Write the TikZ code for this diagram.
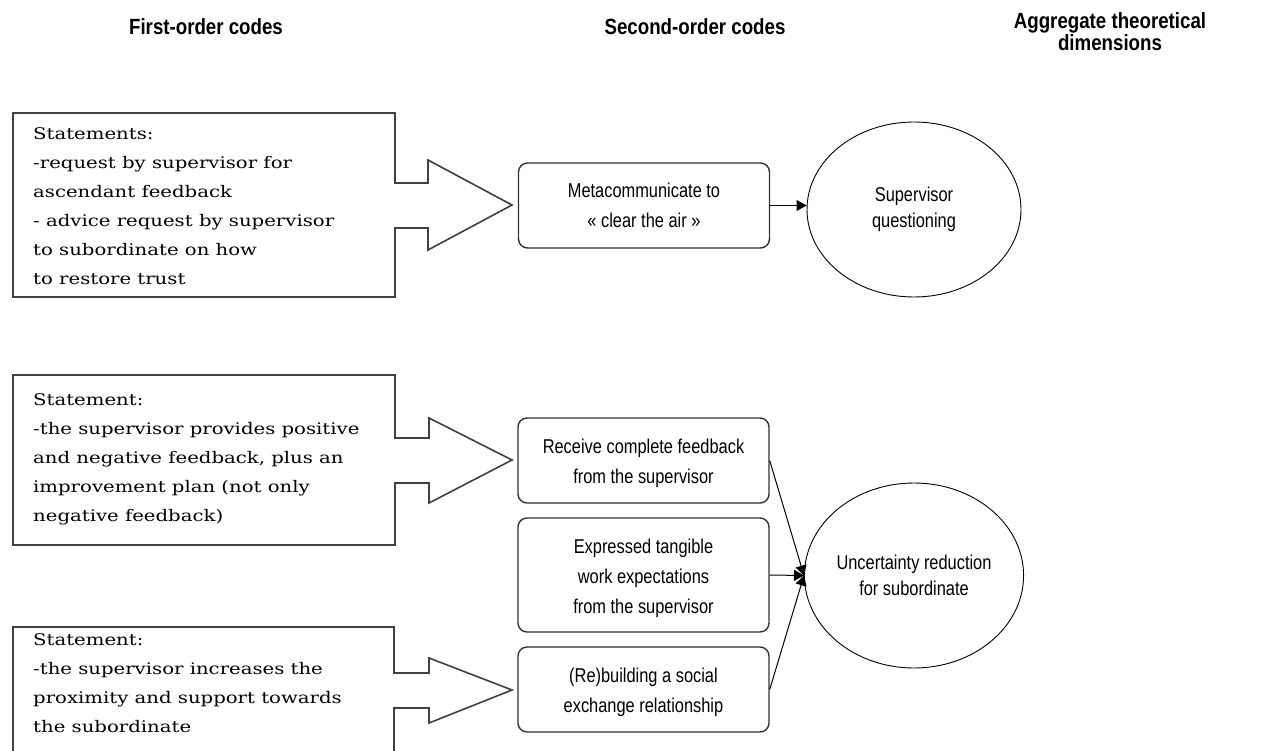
\documentclass[tikz,border=0pt]{standalone}
\usepackage{fontspec}
\setmainfont{Liberation Sans}
\newfontfamily\boxserif[FakeStretch=1.23]{DejaVu Serif}
\newfontfamily\narrow[FakeStretch=0.82]{Liberation Sans}
\newfontfamily\narrowhead[FakeStretch=0.85]{Liberation Sans}
\usetikzlibrary{arrows.meta,shapes.geometric}
\newcommand{\lowered}[1]{\raisebox{-3pt}[\height][\depth]{\parbox{240pt}{\centering #1}}}
\begin{document}
\begin{tikzpicture}[x=1pt,y=-1pt,
  header/.style={align=center,font=\narrowhead\bfseries\fontsize{22}{22}\selectfont},
  stmt/.style={anchor=north west,align=left,inner sep=0pt,font=\boxserif\fontsize{16}{29}\selectfont},
  callout/.style={draw=black!75,line width=1.6pt,line join=miter},
  codebox/.style={draw=black!80,line width=1.4pt,rounded corners=9pt,minimum width=251pt,align=center,inner sep=0pt,font=\narrow\fontsize{20}{30}\selectfont},
  dimell/.style={draw,ellipse,line width=0.9pt,inner sep=0pt,align=center,font=\narrow\fontsize{20}{26}\selectfont},
  conn/.style={-{Triangle[length=10pt,width=11pt]},line width=1pt}]
\useasboundingbox (0,0) rectangle (1268,751);
\fill[white] (0,0) rectangle (1268,751);

% headers
\node[header] (h1) at (206,27) {First-order codes};
\node[header] (h2) at (695,27) {Second-order codes};
\node[header] (h3) at (1110,32) {Aggregate theoretical\\dimensions};

% callout 1
\draw[callout] (13,113) -- (395,113) -- (395,183) -- (428,183) -- (428,160) -- (512,205)
  -- (428,250) -- (428,228) -- (395,228) -- (395,297) -- (13,297) -- cycle;
\node[stmt] (s1) at (33,127) {Statements:\\-request by supervisor for\\ascendant feedback\\- advice request by supervisor\\to subordinate on how\\to restore trust};

% callout 2
\draw[callout] (13,375) -- (395,375) -- (395,438) -- (429,438) -- (429,418) -- (512,460)
  -- (429,503) -- (429,483) -- (395,483) -- (395,545) -- (13,545) -- cycle;
\node[stmt] (s2) at (33,393) {Statement:\\-the supervisor provides positive\\and negative feedback, plus an\\improvement plan (not only\\negative feedback)};

% callout 3
\draw[callout] (13,627) -- (394,627) -- (394,673) -- (429,673) -- (429,658) -- (512,690)
  -- (429,723) -- (429,708) -- (394,708) -- (394,756) -- (13,756) -- cycle;
\node[stmt] (s3) at (33,633) {Statement:\\-the supervisor increases the\\proximity and support towards\\the subordinate};

% second-order codes
\node[codebox,minimum height=85pt] (m1) at (644,205.5) {Metacommunicate to\\« clear the air »};
\node[codebox,minimum height=85pt] (m2) at (643.5,460.5) {\lowered{Receive complete feedback\\from the supervisor}};
\node[codebox,minimum height=114pt] (m3) at (643.5,575) {\lowered{Expressed tangible\\work expectations\\from the supervisor}};
\node[codebox,minimum height=85pt] (m4) at (643.5,689.5) {\lowered{(Re)building a social\\exchange relationship}};

% aggregate dimensions
\node[dimell,minimum width=214pt,minimum height=175pt] (e1) at (914,209.5) {Supervisor\\questioning};
\node[dimell,minimum width=215pt,minimum height=185pt] (e2) at (914,575.5) {Uncertainty reduction\\for subordinate};

% connectors
\draw[conn] (m1.east) -- (m1.east -| e1.west);
\draw[conn] (m2.east) -- (e2.west);
\draw[conn] (m3.east) -- (e2.west);
\draw[conn] (m4.east) -- (e2.west);
\end{tikzpicture}
\end{document}
